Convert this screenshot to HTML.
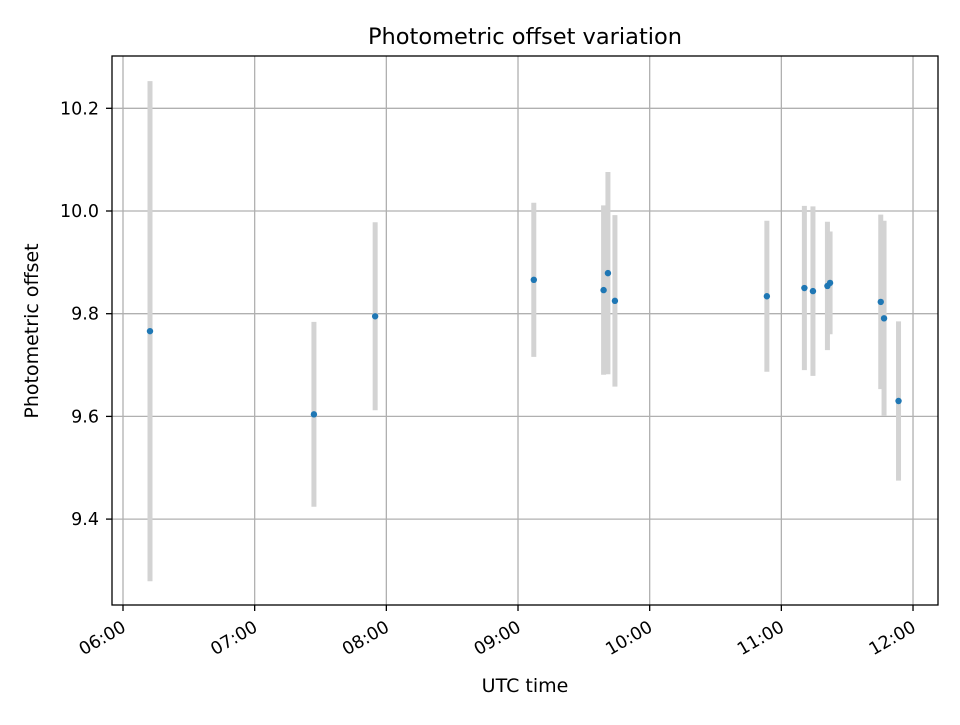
<!DOCTYPE html>
<html><head><meta charset="utf-8"><style>
body{margin:0;background:#fff;}
svg text{font-family:"DejaVu Sans","Liberation Sans",sans-serif;}
</style></head><body>
<svg id="chart" width="960" height="720" xmlns="http://www.w3.org/2000/svg">
<rect width="960" height="720" fill="#fff"/>
<g id="grid"></g><g id="errs"></g><g id="pts"></g><g id="axes"></g>
<text x="525" y="44" font-size="22.5" text-anchor="middle">Photometric offset variation</text>
<text x="525" y="692" font-size="19" text-anchor="middle">UTC time</text>
<text transform="translate(38,331) rotate(-90)" font-size="19" text-anchor="middle">Photometric offset</text>
</svg>
<script>
const times=[6.205,7.45,7.915,9.12,9.65,9.683,9.736,10.89,11.175,11.24,11.35,11.37,11.755,11.78,11.89];
const values=[9.766,9.604,9.795,9.866,9.846,9.879,9.825,9.834,9.85,9.844,9.854,9.86,9.823,9.791,9.63];
const errors=[0.487,0.18,0.183,0.15,0.165,0.197,0.167,0.147,0.16,0.165,0.125,0.1,0.17,0.19,0.155];
const xTicks=[6,7,8,9,10,11,12];
const xTickLabels=["06:00","07:00","08:00","09:00","10:00","11:00","12:00"];
const yTicks=[9.4,9.6,9.8,10.0,10.2];
const yTickLabels=["9.4","9.6","9.8","10.0","10.2"];
const L=112,R=938,T=56,B=605;
const x=h=>123+(h-6)*131.67;
const y=v=>211-(v-10)*513.5;
const NS="http://www.w3.org/2000/svg";
function mk(tag,attrs,parent,txt){const e=document.createElementNS(NS,tag);for(const k in attrs)e.setAttribute(k,attrs[k]);if(txt!==undefined)e.textContent=txt;document.getElementById(parent).appendChild(e);return e;}
xTicks.forEach((t,i)=>{
 const px=x(t);
 const g=mk('line',{x1:px,x2:px,y1:T,y2:B,stroke:'#b0b0b0','stroke-width':1.3},'grid');
 
 
 const tk=mk('line',{x1:px,x2:px,y1:B,y2:B+6,stroke:'#000','stroke-width':1.3},'axes');
 
 
 const lb=mk('text',{transform:`translate(${px-2},${B+15}) rotate(-30)`,'font-size':17.5,'text-anchor':'end','dominant-baseline':'hanging'},'axes',xTickLabels[i]);
 
 
});
yTicks.forEach((t,i)=>{
 const py=y(t);
 const g=mk('line',{x1:L,x2:R,y1:py,y2:py,stroke:'#b0b0b0','stroke-width':1.3},'grid');
 
 
 const tk=mk('line',{x1:L-6,x2:L,y1:py,y2:py,stroke:'#000','stroke-width':1.3},'axes');
 
 
 const lb=mk('text',{x:L-13,y:py+6,'font-size':17.5,'text-anchor':'end'},'axes',yTickLabels[i]);
 
 
});
times.forEach((t,i)=>{
 const e=mk('line',{x1:x(t),x2:x(t),y1:y(values[i]+errors[i]),y2:y(values[i]-errors[i]),stroke:'#d3d3d3','stroke-width':5},'errs');
 
 
 const p=mk('circle',{cx:x(t),cy:y(values[i]),r:3.2,fill:'#1f77b4'},'pts');
 
 
});
const fr=mk('rect',{x:L,y:T,width:R-L,height:B-T,fill:'none',stroke:'#000','stroke-width':1.3},'axes');


</script>
</body></html>
